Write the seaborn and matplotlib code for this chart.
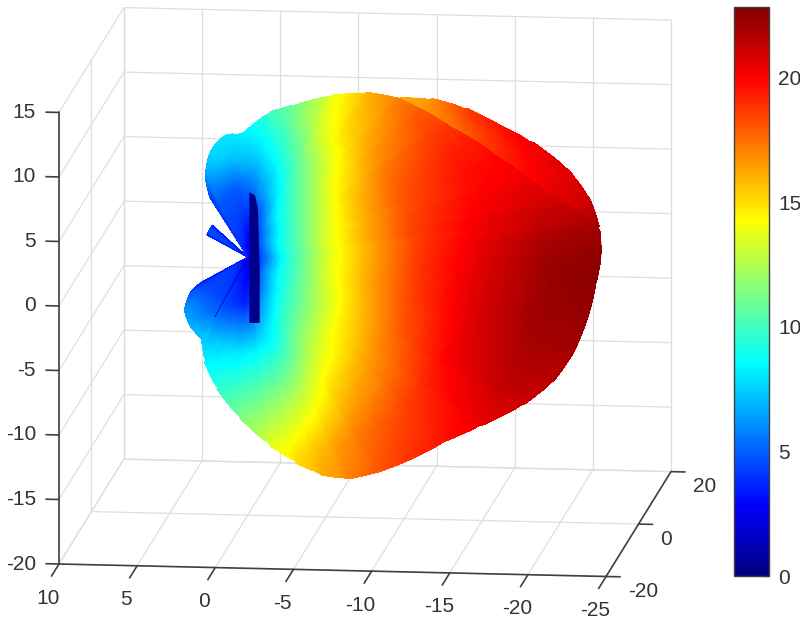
import numpy as np
import matplotlib
matplotlib.use('Agg')
import matplotlib.pyplot as plt
import seaborn as sns
from matplotlib.cm import ScalarMappable
from matplotlib.colors import LinearSegmentedColormap, Normalize
from mpl_toolkits.mplot3d import proj3d
from mpl_toolkits.mplot3d.art3d import Poly3DCollection

# Axis ticks
x_ticks = [10, 5, 0, -5, -10, -15, -20, -25]
y_ticks = [-20, 0, 20]
z_ticks = [-20, -15, -10, -5, 0, 5, 10, 15]
bar_ticks = [0, 5, 10, 15, 20]
bar_max = 22.85

# Outline of the pattern as seen on screen: angle around the view axis (deg) and radius
outline_psi = [0, 1, 6.2, 11.7, 18.4, 25.7, 32, 39.1, 45.7, 51.3, 58.8, 66.3, 74.2, 82.7, 89, 93, 96, 101, 107, 114,
               118, 118.5, 132.5, 133, 147, 147.5, 212.5, 213, 216, 225, 234.4, 245.3, 251.1, 258.8, 267.6, 275.6,
               281.2, 285.5, 290.5, 296.6, 303, 312.3, 319.4, 327.4, 333.9, 340.2, 347.1, 355.1, 360]
outline_rho = [22.5, 22.5, 22.5, 22.2, 21.4, 20.1, 18.9, 17.9, 16.8, 15.45, 14.6, 13.4, 12.1, 11.1, 9.9, 9.2, 9.5, 9.2, 8.3, 6.65,
               5.15, 0, 0, 3.3, 3.1, 0, 0, 3.6, 4.5, 5.7, 6.35, 6.9, 8.4, 10.1, 12.15, 14.3,
               15.9, 17.1, 18, 18.3, 18.5, 18.8, 19.6, 20.8, 21.6, 21.95, 22.1, 22.25, 22.5]

# Pattern value: one row per screen radius, one column per angle
psi_cols = [0, 15, 30, 45, 60, 75, 90, 100, 110, 118, 213, 225, 240, 255, 270, 285, 300, 315, 330, 345, 360]
rho_rows = [0, 1, 2, 3.5, 5, 7.5, 11, 15, 19, 23]
value_table = np.array([
    [2.5, 2.5, 2.5, 2.5, 2.5, 2.5, 2.5, 2.5, 2.5, 2.5, 2.5, 2.5, 2.5, 2.5, 2.5, 2.5, 2.5, 2.5, 2.5, 2.5, 2.5],
    [5, 4.9, 4.7, 4.5, 4, 3.5, 2.5, 3.5, 3.8, 4, 4, 4, 3.5, 3, 2.5, 3, 4, 4.5, 4.8, 4.9, 5],
    [8.7, 8.6, 8.3, 7, 5.3, 4.2, 3, 4, 4.2, 4.3, 4.2, 4.3, 4, 3.5, 3, 4.5, 6, 7.5, 8.3, 8.6, 8.7],
    [11, 10.8, 10.3, 9.5, 8.3, 5, 4, 4.5, 4.5, 4.7, 4.5, 4.5, 4.5, 4, 3.5, 6.5, 8.5, 9.8, 10.4, 10.9, 11],
    [13.6, 13.3, 12.5, 11.1, 9.5, 6.8, 4.8, 4.8, 5, 5.2, 4.8, 6, 5.5, 5.5, 5.5, 8, 10.2, 11.3, 12.5, 13.4, 13.6],
    [16.1, 15.9, 15.4, 14, 11.4, 8.6, 7, 7.5, 7.6, 5.5, 4.8, 7.5, 8, 8.3, 8.5, 9.5, 12.5, 14.2, 15.2, 16, 16.1],
    [19, 18.6, 18, 16.4, 14.4, 10.8, 9, 8.8, 8, 5.5, 4.8, 7.5, 8, 9.5, 11, 12.5, 15.3, 16.6, 18, 18.8, 19],
    [20.8, 20, 19.4, 18, 15.8, 11.5, 9, 8.8, 8, 5.5, 4.8, 7.5, 8, 9.5, 13, 15.5, 17.6, 18.9, 20.4, 20.9, 20.8],
    [22.3, 20.6, 19.8, 18, 16, 11.5, 9, 8.8, 8, 5.5, 4.8, 7.5, 8, 9.5, 13, 16.5, 18.8, 20, 21.6, 22.2, 22.3],
    [22.7, 21, 19.8, 18, 16, 11.5, 9, 8.8, 8, 5.5, 4.8, 7.5, 8, 9.5, 13, 16.5, 18.8, 20.3, 21, 22.3, 22.7],
])

# Second lobe behind the main one, between the ridge and the outline
ridge_psi = [6, 10, 14.5, 25, 37, 46, 52]
ridge_rho = [22.4, 21, 19.6, 17.7, 16.3, 15.7, 15.4]
ridge_inner = [21.5, 20.8, 20.4, 19, 17.2, 16.3, 15.9]
ridge_outer = [22, 21.2, 20.8, 20.5, 19, 16.6, 16.1]

# Dark slit next to the origin, in the same screen-aligned coordinates
slit_a = [0.1, 0.45, 0.64, 0.76, 0.76, 0.1, 0.1]
slit_b = [4.93, 4.7, 3.79, -0.99, -5.0, -5.0, 0]
spike_a = [0, -2.1]
spike_b = [0, -4.55]

# Unit vectors of the view: screen right, screen up, towards the camera
view_a = np.array([-0.9944, 0.1044, 0.0062])
view_b = np.array([0.0207, 0.1999, 0.9793])
view_c = np.array([-0.1011, -0.9745, 0.2010])

sns.set_theme(style='white')
plt.rcParams['font.family'] = ['Liberation Sans', 'DejaVu Sans']
# MATLAB's jet, matplotlib's one has its red further up
jet = LinearSegmentedColormap.from_list('matlab_jet', [
    (0, (0, 0, 0.5)), (1 / 8, (0, 0, 1)), (3 / 8, (0, 1, 1)),
    (5 / 8, (1, 1, 0)), (7 / 8, (1, 0, 0)), (1, (0.5, 0, 0))], N=256)
norm = Normalize(0, bar_max)

fig = plt.figure(figsize=(8, 6.21), dpi=100)
ax = fig.add_subplot(projection='3d', proj_type='ortho', computed_zorder=False)
ax.set_axis_off()
ax.autoscale(False)
ax.set_xlim(10, -25)
ax.set_ylim(-20, 20)
ax.set_zlim(-20, 15)
ax.view_init(elev=11.07, azim=-83.22)
box = (552, 551, 461)


def to_pixels(x, y, z):
    fx, fy, _ = proj3d.proj_transform(x, y, z, ax.get_proj())
    px, py = ax.transData.transform((fx, fy))
    return px, 621 - py


# fit the box to the corners measured on the reference
ax.set_position([0, -0.144, 1, 800 / 621])
ax.set_box_aspect(box, zoom=1)
ax.apply_aspect()
p0 = to_pixels(10, -20, -20)
p1 = to_pixels(-25, 20, 15)
ax.set_box_aspect(box, zoom=(671 - 59) / (p1[0] - p0[0]))
ax.apply_aspect()
p0 = to_pixels(10, -20, -20)
pos = ax.get_position(original=True)
ax.set_position([pos.x0 + (59 - p0[0]) / 800, pos.y0 + (p0[1] - 564) / 621, pos.width, pos.height])
ax.apply_aspect()


def view_to_data(a, b, depth):
    return (a * view_a[0] + b * view_b[0] + depth * view_c[0],
            a * view_a[1] + b * view_b[1] + depth * view_c[1],
            a * view_a[2] + b * view_b[2] + depth * view_c[2])


def smooth(arr, n, axis, wrap=False):
    # moving average, only to take the corners out of the hand-read table
    pad = n // 2
    width = [(0, 0)] * arr.ndim
    width[axis] = (pad, pad)
    padded = np.pad(arr, width, mode='wrap' if wrap else 'edge')
    kernel = np.ones(n) / n
    return np.apply_along_axis(lambda v: np.convolve(v, kernel, mode='valid'), axis, padded)


def draw_patch(a, b, values, zorder):
    depth = np.sqrt(np.clip(values**2 - a**2 - b**2, 0, None))
    X, Y, Z = view_to_data(a, b, depth)
    colors = jet(norm(values))
    ax.plot_surface(X, Y, Z, facecolors=colors, rstride=1, cstride=1, shade=False,
                    linewidth=0, antialiased=False, zorder=zorder)
    # soft edge along the rim
    ax.plot_surface(X[-3:], Y[-3:], Z[-3:], facecolors=colors[-3:], rstride=1, cstride=1, shade=False,
                    linewidth=0.5, antialiased=True, zorder=zorder)


# Grid on the three back walls
grid = dict(color='#dedede', lw=0.9, zorder=1)
for z in z_ticks:
    ax.plot([10, 10], [-20, 20], [z, z], **grid)
    ax.plot([10, -25], [20, 20], [z, z], **grid)
for x in x_ticks:
    ax.plot([x, x], [20, 20], [-20, 15], **grid)
    ax.plot([x, x], [-20, 20], [-20, -20], **grid)
for y in y_ticks:
    ax.plot([10, 10], [y, y], [-20, 15], **grid)
    ax.plot([10, -25], [y, y], [-20, -20], **grid)

# Surface: the read values are only resampled here to get a smooth mesh, like shading interp
psi_fine = np.unique(np.concatenate([np.arange(0, 361, 1.0), outline_psi]))
rho_fine = np.interp(psi_fine, outline_psi, outline_rho)
soft = smooth(rho_fine[:-1], 5, 0, wrap=True)
keep = (psi_fine[:-1] < 112) | (psi_fine[:-1] > 222)
rho_fine[:-1][keep] = soft[keep]
rho_fine[-1] = rho_fine[0]
in_ridge = (psi_fine >= ridge_psi[0]) & (psi_fine <= ridge_psi[-1])
rho_main = rho_fine.copy()
rho_main[in_ridge] = np.minimum(rho_main[in_ridge], np.interp(psi_fine[in_ridge], ridge_psi, ridge_rho))

frac = np.linspace(0, 1, 110)
rows_fine = np.array([np.interp(psi_fine, psi_cols, row) for row in value_table])
values = np.empty((len(frac), len(psi_fine)))
for j in range(len(psi_fine)):
    values[:, j] = np.interp(frac * rho_main[j], rho_rows, rows_fine[:, j])
values = smooth(values, 7, 0)
values[:, :-1] = smooth(values[:, :-1], 11, 1, wrap=True)
values[:, -1] = values[:, 0]
cos_psi = np.cos(np.radians(psi_fine))
sin_psi = np.sin(np.radians(psi_fine))
draw_patch(np.outer(frac, rho_main * cos_psi), np.outer(frac, rho_main * sin_psi), values, 3)

# Second lobe, showing past the main one in the upper right
psi_band = psi_fine[in_ridge]
frac_band = np.linspace(0, 1, 12)
rho_band = np.outer(1 - frac_band, rho_main[in_ridge] - 0.3) + np.outer(frac_band, rho_fine[in_ridge])
value_band = np.outer(1 - frac_band, np.interp(psi_band, ridge_psi, ridge_inner)) \
    + np.outer(frac_band, np.interp(psi_band, ridge_psi, ridge_outer))
draw_patch(rho_band * cos_psi[in_ridge], rho_band * sin_psi[in_ridge], value_band, 2)

# Slit and spike at the null
sx, sy, sz = view_to_data(np.array(slit_a), np.array(slit_b), 1.0)
slit = Poly3DCollection([list(zip(sx, sy, sz))], facecolors=jet(0.01), edgecolors='none', zorder=4)
ax.add_collection3d(slit, autolim=False)
sx, sy, sz = view_to_data(np.array(spike_a), np.array(spike_b), 1.0)
ax.plot(sx, sy, sz, color=jet(0.06), lw=0.6, zorder=4)

# Axis lines, ticks and labels
line = dict(color='#404040', lw=1.2, zorder=5)
ax.plot([10, -25], [-20, -20], [-20, -20], **line)
ax.plot([-25, -25], [-20, 20], [-20, -20], **line)
ax.plot([10, 10], [-20, -20], [-20, 15], **line)
label = dict(fontsize=15, color='#333333', va='center')
for x in x_ticks:
    ax.plot([x, x], [-20, -24.6], [-20, -20], **line)
    px, py = to_pixels(x, -20, -20)
    fig.text((px - 11) / 800, 1 - (py + 34) / 621, str(x), ha='center', **label)
for y in y_ticks:
    ax.plot([-25, -25.9], [y, y], [-20, -20], **line)
    px, py = to_pixels(-25, y, -20)
    fig.text((px + 22) / 800, 1 - (py + 15) / 621, str(y), ha='left', **label)
for z in z_ticks:
    ax.plot([10, 10.83], [-20, -20], [z, z], **line)
    px, py = to_pixels(10, -20, z)
    fig.text((px - 23) / 800, 1 - py / 621, str(z), ha='right', **label)

# Colour bar
cax = fig.add_axes([734 / 800, 1 - 576 / 621, 35 / 800, 569 / 621])
bar = fig.colorbar(ScalarMappable(norm=norm, cmap=jet), cax=cax)
bar.set_ticks(bar_ticks)
bar.ax.tick_params(direction='in', length=4.3, width=1, right=True, color='#404040',
                   labelcolor='#333333', labelsize=15, pad=6.5)
bar.outline.set_edgecolor('#404040')
bar.outline.set_linewidth(1)

fig.savefig('out.png', dpi=100)
